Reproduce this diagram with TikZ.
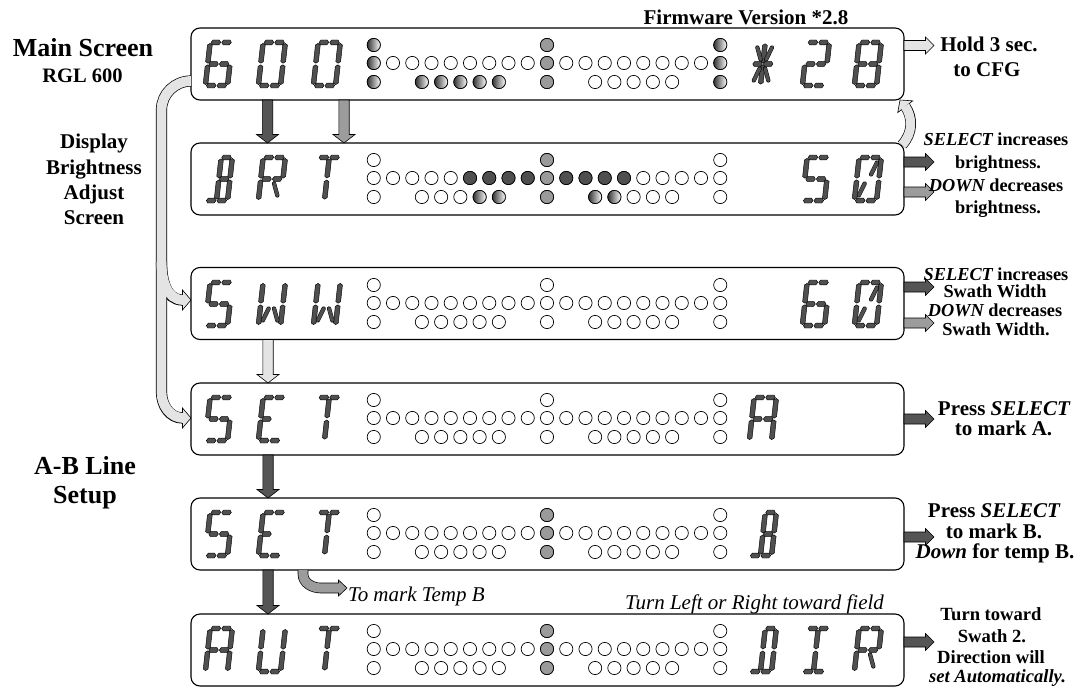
\documentclass[tikz,border=0pt]{standalone}
\usepackage{fontspec}
\setmainfont{Liberation Serif}
\usetikzlibrary{calc}
\definecolor{segfill}{HTML}{505050}
\definecolor{darkarrow}{HTML}{555555}
\definecolor{midarrow}{HTML}{9C9C9C}
\definecolor{lightarrow}{HTML}{E4E4E4}
\definecolor{ledgray}{HTML}{9A9A9A}
\definecolor{leddark}{HTML}{4F4F4F}
\newcommand\fb[1]{\fontsize{#1}{#1}\selectfont\bfseries}
\newcommand\fit[1]{\fontsize{#1}{#1}\selectfont\itshape}
\tikzset{
  screen/.style={draw=black, fill=white, line width=1.1pt, rounded corners=9pt,
    minimum width=713pt, minimum height=72pt, inner sep=0pt, outer sep=0pt},
  seg/.style={fill=segfill, draw=black, line width=0.45pt, line join=miter},
  dseg/.style={draw=black, line width=0.45pt, double=segfill, double distance=3.3pt, line cap=round},
  ledline/.style={draw=black, line width=0.7pt},
  shadeled/.style={left color=black!80, right color=white},
  blk/.style={draw=black, line width=0.6pt, line join=miter},
  pipeout/.style={draw=black, line width=11.2pt},
  pipein/.style={draw=lightarrow, line width=9.8pt},
  txt/.style={anchor=base, inner sep=0pt, outer sep=0pt},
}
% segments (local units, y downward)
\newcommand\hs[3]{\filldraw[seg] (#1,#3) -- ({#1+1.6},{#3-2.4}) -- ({#2-1.6},{#3-2.4}) -- (#2,#3) -- ({#2-1.6},{#3+2.4}) -- ({#1+1.6},{#3+2.4}) -- cycle;}
\newcommand\vs[3]{\filldraw[seg] (#1,#2) -- ({#1+2.4},{#2+1.6}) -- ({#1+2.4},{#3-1.6}) -- (#1,#3) -- ({#1-2.4},{#3-1.6}) -- ({#1-2.4},{#2+1.6}) -- cycle;}
\newcommand\sgTopL{\hs{3.4}{13.0}{2.4}}
\newcommand\sgTopR{\hs{14.0}{23.6}{2.4}}
\newcommand\sgTop{\sgTopL\sgTopR}
\newcommand\sgMidL{\hs{3.4}{13.0}{24}}
\newcommand\sgMidR{\hs{14.0}{23.6}{24}}
\newcommand\sgMid{\sgMidL\sgMidR}
\newcommand\sgBot{\hs{3.4}{13.0}{45.6}\hs{14.0}{23.6}{45.6}}
\newcommand\sgF{\vs{2.4}{3.4}{23.2}}
\newcommand\sgE{\vs{2.4}{24.8}{44.6}}
\newcommand\sgB{\vs{24.6}{3.4}{23.2}}
\newcommand\sgC{\vs{24.6}{24.8}{44.6}}
\newcommand\sgI{\vs{13.5}{3.8}{23.0}}
\newcommand\sgL{\vs{13.5}{25.0}{44.2}}
\newcommand\sgH{\draw[dseg] (6.2,7.5) -- (10.8,19.5);}
\newcommand\sgJ{\draw[dseg] (20.8,7.5) -- (16.2,19.5);}
\newcommand\sgK{\draw[dseg] (10.8,28.5) -- (6.2,40.5);}
\newcommand\sgM{\draw[dseg] (16.2,28.5) -- (20.8,40.5);}
\newcommand\lcd[3]{\begin{scope}[shift={(#1,#2)},xslant=0.11]#3\end{scope}}
\newcommand\chSix{\sgTop\sgF\sgE\sgMid\sgC\sgBot}
\newcommand\chZero{\sgTop\sgF\sgE\sgB\sgC\sgBot}
\newcommand\chZeroS{\chZero\sgJ\sgK}
\newcommand\chStar{\sgI\sgL\sgH\sgJ\sgK\sgM\sgMid}
\newcommand\chTwo{\sgTop\sgB\sgMid\sgE\sgBot}
\newcommand\chEight{\sgTop\sgF\sgE\sgB\sgC\sgMid\sgBot}
\newcommand\chFive{\sgTop\sgF\sgMid\sgC\sgBot}
\newcommand\chBee{\sgTopR\sgI\sgL\sgB\sgC\sgMidR\sgBot}
\newcommand\chArr{\sgTop\sgF\sgE\sgB\sgMid\sgM}
\newcommand\chTee{\sgTop\sgI\sgL}
\newcommand\chDoubleU{\sgF\sgE\sgB\sgC\sgK\sgM}
\newcommand\chEe{\sgTop\sgF\sgE\sgMidL\sgBot}
\newcommand\chAy{\sgTop\sgF\sgE\sgB\sgC\sgMid}
\newcommand\chYou{\sgF\sgE\sgB\sgC\sgBot}
\newcommand\chDee{\sgTopR\sgI\sgL\sgB\sgC\sgBot}
\newcommand\chEye{\sgTop\sgI\sgL\sgBot}
% LEDs
\newcommand\leds[1]{%
  \foreach \k in {-9,...,9} {\filldraw[ledline, fill=white] ({547+19.25*(\k)},{#1+35}) circle[radius=6.6pt];}
  \foreach \k in {-9,0,9} {\filldraw[ledline, fill=white] ({547+19.25*(\k)},{#1+17}) circle[radius=6.6pt];
     \filldraw[ledline, fill=white] ({547+19.25*(\k)},{#1+54}) circle[radius=6.6pt];}
  \foreach \k in {2.5,3.5,4.5,5.5,6.5} {\filldraw[ledline, fill=white] ({547-19.25*\k},{#1+54}) circle[radius=6.6pt];
     \filldraw[ledline, fill=white] ({547+19.25*\k},{#1+54}) circle[radius=6.6pt];}}
\newcommand\ledat[4]{\path[ledline, #4] ({547+19.25*(#1)},{#2+#3}) circle[radius=6.6pt];}
% block arrows
\newcommand\downblock[3]{\filldraw[blk, fill=#3] let \p1=#1, \p2=#2 in
  (\x1-5.2pt,\y1) -- (\x1-5.2pt,\y2+8.5pt) -- (\x1-11pt,\y2+8.5pt) -- (\x1,\y2) -- (\x1+11pt,\y2+8.5pt) -- (\x1+5.2pt,\y2+8.5pt) -- (\x1+5.2pt,\y1) -- cycle;}
\newcommand\rightblock[3]{\filldraw[blk, fill=#3] let \p1=#1, \p2=#2 in
  (\x1,\y1+5pt) -- (\x2-8.5pt,\y1+5pt) -- (\x2-8.5pt,\y1+8.5pt) -- (\x2,\y1) -- (\x2-8.5pt,\y1-8.5pt) -- (\x2-8.5pt,\y1-5pt) -- (\x1,\y1-5pt) -- cycle;}
\newcommand\headat[4]{\begin{scope}[shift={#1}, rotate=#2]\filldraw[blk, fill=#3] (0,0) -- (-8.5,#4) -- (-8.5,-#4) -- cycle;\end{scope}}
\begin{document}
\begin{tikzpicture}[x=1pt,y=-1pt]
\useasboundingbox (0,0) rectangle (1081,690);
% screens
\node[screen] (b1) at (547.5,64) {};
\node[screen] (b2) at (547.5,179) {};
\node[screen] (b3) at (547.5,303.5) {};
\node[screen] (b4) at (547.5,419) {};
\node[screen] (b5) at (547.5,534) {};
\node[screen] (b6) at (547.5,650) {};
% left pipe with branch
\coordinate (pS) at (b1.west |- 0,81);
\coordinate (pW) at (b3.west |- 0,300);
\coordinate (pA) at (b4.west |- 0,418);
\draw[pipeout] (pS) to[out=180,in=90] (161.5,110) -- (161.5,392) to[out=-90,in=180] ([xshift=-8.5pt]pA);
\draw[pipeout] (161.5,262) to[out=-90,in=180] ([xshift=-8.5pt]pW);
\headat{(pA)}{0}{lightarrow}{10}
\headat{(pW)}{0}{lightarrow}{10}
\draw[pipein] (pS) to[out=180,in=90] (161.5,110) -- (161.5,392) to[out=-90,in=180] ([xshift=-7.5pt]pA);
\draw[pipein] (161.5,262) to[out=-90,in=180] ([xshift=-7.5pt]pW);
% curved arrow back to main screen
\coordinate (cS) at ($(b2.north east)+(-2,2)$);
\coordinate (cT) at ($(b1.south east)+(-4,0)$);
\draw[black, line width=10.6pt] (cS) .. controls (913,133) and (913,118) .. (905.5,106.7);
\headat{(cT)}{128}{lightarrow}{9.5}
\draw[lightarrow, line width=9.2pt] (cS) .. controls (913,133) and (913,118) .. (905,106);
% temp B arrow
\coordinate (tS) at (b5.south -| 303,0);
\coordinate (tT) at (347,588);
\draw[black, line width=10.6pt] (tS) -- (303,574) to[out=-90,in=180] (321,588) -- ([xshift=-8.5pt]tT);
\headat{(tT)}{0}{midarrow}{8}
\draw[midarrow, line width=9.2pt] (tS) -- (303,574) to[out=-90,in=180] (321,588) -- ([xshift=-7.5pt]tT);
% vertical block arrows
\downblock{(b1.south -| 267.5,0)}{(b2.north -| 267.5,0)}{darkarrow}
\downblock{(b1.south -| 344,0)}{(b2.north -| 344,0)}{midarrow}
\downblock{(b3.south -| 268,0)}{(b4.north -| 268,0)}{lightarrow}
\downblock{(b4.south -| 268,0)}{(b5.north -| 268,0)}{darkarrow}
\downblock{(b5.south -| 268,0)}{(b6.north -| 268,0)}{darkarrow}
% right block arrows
\coordinate (r1) at (934,45.5);
\coordinate (r2a) at (934,162);
\coordinate (r2b) at (934,192);
\coordinate (r3a) at (934,287);
\coordinate (r3b) at (934,323);
\coordinate (r4) at (934,419);
\coordinate (r5) at (934,537);
\coordinate (r6) at (934,642);
\rightblock{(b1.east |- r1)}{(r1)}{lightarrow}
\rightblock{(b2.east |- r2a)}{(r2a)}{darkarrow}
\rightblock{(b2.east |- r2b)}{(r2b)}{midarrow}
\rightblock{(b3.east |- r3a)}{(r3a)}{darkarrow}
\rightblock{(b3.east |- r3b)}{(r3b)}{midarrow}
\rightblock{(b4.east |- r4)}{(r4)}{darkarrow}
\rightblock{(b5.east |- r5)}{(r5)}{darkarrow}
\rightblock{(b6.east |- r6)}{(r6)}{darkarrow}
% LEDs
\leds{28}\leds{143}\leds{268}\leds{383}\leds{498}\leds{614}
\foreach \r in {17,35,54} {\ledat{-9}{28}{\r}{shadeled}\ledat{9}{28}{\r}{shadeled}\ledat{0}{28}{\r}{fill=ledgray}}
\foreach \k in {-6.5,-5.5,-4.5,-3.5,-2.5} {\ledat{\k}{28}{54}{shadeled}}
\foreach \r in {17,35,54} {\ledat{0}{143}{\r}{fill=ledgray}\ledat{0}{498}{\r}{fill=ledgray}\ledat{0}{614}{\r}{fill=ledgray}}
\foreach \k in {-4,-3,-2,-1,1,2,3,4} {\ledat{\k}{143}{35}{fill=leddark}}
\foreach \k in {-3.5,-2.5,2.5,3.5} {\ledat{\k}{143}{54}{shadeled}}
% characters
\lcd{208}{40}{\chSix}\lcd{261}{40}{\chZero}\lcd{316}{40}{\chZero}
\lcd{752}{40}{\chStar}\lcd{805}{40}{\chTwo}\lcd{857}{40}{\chEight}
\lcd{208}{155}{\chBee}\lcd{261}{155}{\chArr}\lcd{316}{155}{\chTee}
\lcd{805}{155}{\chFive}\lcd{857}{155}{\chZeroS}
\lcd{208}{280}{\chFive}\lcd{261}{280}{\chDoubleU}\lcd{316}{280}{\chDoubleU}
\lcd{805}{280}{\chSix}\lcd{857}{280}{\chZeroS}
\lcd{208}{395}{\chFive}\lcd{261}{395}{\chEe}\lcd{316}{395}{\chTee}
\lcd{752}{395}{\chAy}
\lcd{208}{510}{\chFive}\lcd{261}{510}{\chEe}\lcd{316}{510}{\chTee}
\lcd{752}{510}{\chBee}
\lcd{208}{626}{\chAy}\lcd{261}{626}{\chYou}\lcd{316}{626}{\chTee}
\lcd{752}{626}{\chDee}\lcd{805}{626}{\chEye}\lcd{857}{626}{\chArr}
% texts
\node[txt, font=\fb{21}] (fw) at (746,25) {Firmware Version *2.8};
\node[txt, font=\fb{26}] (ms) at (83,57) {Main Screen};
\node[txt, font=\fb{20.5}] (rgl) at (82.5,83) {RGL 600};
\node[txt, font=\fb{21}] (d1) at (94,149) {Display};
\node[txt, font=\fb{21}] (d2) at (94,174) {Brightness};
\node[txt, font=\fb{21}] (d3) at (94,199) {Adjust};
\node[txt, font=\fb{21}] (d4) at (94,224) {Screen};
\node[txt, font=\fb{26}] (ab1) at (85,474) {A-B Line};
\node[txt, font=\fb{26}] (ab2) at (85,503) {Setup};
\node[txt, font=\fb{21}] (h1) at (989,52) {Hold 3 sec.};
\node[txt, font=\fb{21}] (h2) at (987,77) {to CFG};
\node[txt, font=\fb{18.3}] (s1) at (996,146) {{\itshape SELECT} increases};
\node[txt, font=\fb{18.3}] (s2) at (998,168.5) {brightness.};
\node[txt, font=\fb{18.3}] (s3) at (996,191) {{\itshape DOWN} decreases};
\node[txt, font=\fb{18.3}] (s4) at (998,213.5) {brightness.};
\node[txt, font=\fb{18.3}] (w1) at (996,280) {{\itshape SELECT} increases};
\node[txt, font=\fb{18.3}] (w2) at (995,297) {Swath Width};
\node[txt, font=\fb{18.3}] (w3) at (995,316) {{\itshape DOWN} decreases};
\node[txt, font=\fb{18.3}] (w4) at (996,335) {Swath Width.};
\node[txt, font=\fb{21}] (pa1) at (1004,415) {Press {\itshape SELECT}};
\node[txt, font=\fb{21}] (pa2) at (1003.5,435) {to mark A.};
\node[txt, font=\fb{21}] (pb1) at (994,517) {Press {\itshape SELECT}};
\node[txt, font=\fb{21}] (pb2) at (994,538) {to mark B.};
\node[txt, font=\fb{21}] (pb3) at (995,558) {{\itshape Down} for temp B.};
\node[txt, font=\fb{18.6}] (t1) at (991,620) {Turn toward};
\node[txt, font=\fb{18.6}] (t2) at (992,642) {Swath 2.};
\node[txt, font=\fb{18.6}] (t3) at (991,663) {Direction will};
\node[txt, font=\fb{18.6}] (t4) at (997.5,682) {{\itshape set Automatically.}};
\node[txt, anchor=base west, font=\fit{21}] (tmb) at (348,601) {To mark Temp B};
\node[txt, font=\fit{21}] (tl) at (754.5,609) {Turn Left or Right toward field};
\end{tikzpicture}
\end{document}
